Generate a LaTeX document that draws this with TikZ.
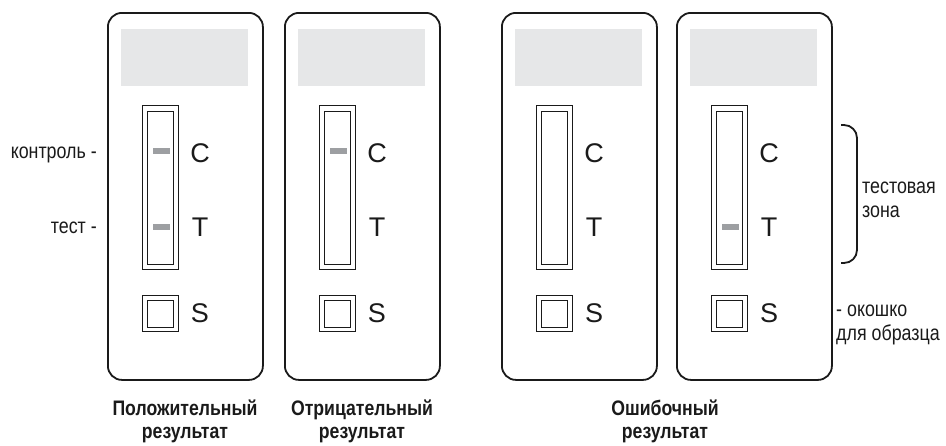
\documentclass[tikz,border=0pt]{standalone}
\usepackage{fontspec}
\setmainfont{Liberation Sans}
\newfontfamily\narrowfont[FakeStretch=0.84]{Liberation Sans}
\newfontfamily\sidefont[FakeStretch=0.83]{Liberation Sans}
\definecolor{winGray}{HTML}{E6E7E8}
\definecolor{bandGray}{HTML}{9D9FA2}
\definecolor{inkBlack}{HTML}{1A1A1A}
\tikzset{
  card/.style={draw=inkBlack, line width=1.8pt, rounded corners=14pt, minimum width=155pt, minimum height=367pt, anchor=north west, inner sep=0pt},
  window/.style={fill=winGray, minimum width=127pt, minimum height=57pt, anchor=north west, inner sep=0pt},
  stripout/.style={draw=inkBlack, line width=1.3pt, minimum width=36pt, minimum height=164pt, anchor=north west, inner sep=0pt},
  stripin/.style={draw=inkBlack, line width=1.3pt, minimum width=26pt, minimum height=153pt, anchor=north west, inner sep=0pt},
  sqout/.style={draw=inkBlack, line width=1.3pt, minimum width=36pt, minimum height=36pt, anchor=north west, inner sep=0pt},
  sqin/.style={draw=inkBlack, line width=1.3pt, minimum width=26pt, minimum height=27pt, anchor=north west, inner sep=0pt},
  band/.style={fill=bandGray, minimum width=17pt, minimum height=6pt, inner sep=0pt},
  letter/.style={font=\fontsize{27}{30}\selectfont, text=inkBlack, inner sep=0pt},
  sidelabel/.style={font=\sidefont\fontsize{21.5}{23.5}\selectfont, text=inkBlack, inner sep=0pt, align=left},
  caption/.style={font=\narrowfont\bfseries\fontsize{21}{23}\selectfont, text=inkBlack, inner sep=0pt, align=center},
  bracketline/.style={draw=inkBlack, line width=1.8pt, rounded corners=13pt}
}
\newcommand\testcard[4]{%
  \node[card] (#1card) at (#2,12) {};
  \node[window] (#1win) at (#2+14,29) {};
  \node[stripout] (#1strip) at (#2+35,105) {};
  \node[stripin] (#1stripin) at (#2+40,111) {};
  \node[sqout] (#1sqout) at (#2+35,295) {};
  \node[sqin] (#1sqin) at (#2+40,300) {};
  \node[letter] (#1C) at (#2+93,153) {C};
  \node[letter] (#1T) at (#2+93,227) {T};
  \node[letter] (#1S) at (#2+93,313) {S};
  \ifnum#3=1 \node[band] (#1cband) at (#2+54,151) {};\fi
  \ifnum#4=1 \node[band] (#1tband) at (#2+54,227) {};\fi
}
\begin{document}
\begin{tikzpicture}[x=1pt,y=-1pt]
  \useasboundingbox (0,0) rectangle (946,445);
  \testcard{a}{107}{1}{1}
  \testcard{b}{284}{1}{0}
  \testcard{c}{501}{0}{0}
  \testcard{d}{676}{0}{1}
  \node[sidelabel, anchor=east] (ctrl) at (97,155) {контроль -};
  \node[sidelabel, anchor=east] (tst) at (97,228) {тест -};
  \coordinate (bt) at (841,125);
  \coordinate (bb) at (841,263);
  \draw[bracketline] (bt) -| (857,194) |- (bb);
  \node[sidelabel, anchor=west] (zone) at (862,200) {тестовая\\зона};
  \node[sidelabel, anchor=west] (win) at (836,325) {- окошко\\для образца};
  \node[caption] (pos) at (185,421) {Положительный\\результат};
  \node[caption] (neg) at (362,421) {Отрицательный\\результат};
  \node[caption] (err) at (665,421) {Ошибочный\\результат};
\end{tikzpicture}
\end{document}
